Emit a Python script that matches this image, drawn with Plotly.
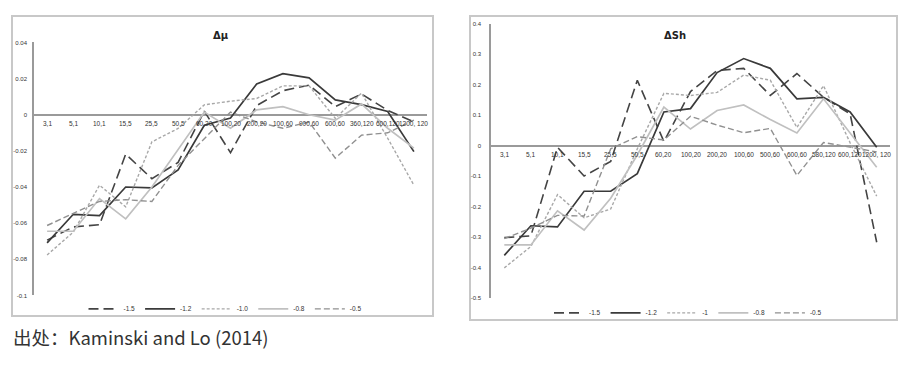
import plotly.graph_objects as go

W, H = 911, 377

cats_mu = ["3,1", "5,1", "10,1", "15,5", "25,5", "50,5", "60,20", "100,20", "200,20",
           "100,60", "900,60", "600,60", "360,120", "600,120", "1200, 120"]
cats_sh = ["3,1", "5,1", "10,1", "15,5", "25,5", "50,5", "60,20", "100,20", "200,20",
           "100,60", "500,60", "600,60", "580,120", "600,120", "1200, 120"]

names_mu = ["-1.5", "-1.2", "-1.0", "-0.8", "-0.5"]
names_sh = ["-1.5", "-1.2", "-1", "-0.8", "-0.5"]

mu_m15 = [-0.0694, -0.0621, -0.0609, -0.0218, -0.0354, -0.0264, 0.0020, -0.0210, 0.0051,
          0.0133, 0.0164, 0.0045, 0.0115, 0.0024, -0.0040]
mu_m12 = [-0.0709, -0.0551, -0.0558, -0.0400, -0.0405, -0.0305, -0.0058, -0.0018, 0.0171,
          0.0227, 0.0204, 0.0082, 0.0056, 0.0018, -0.0204]
mu_m10 = [-0.0776, -0.0650, -0.0390, -0.0510, -0.0150, -0.0076, 0.0055, 0.0075, 0.0090,
          0.0160, 0.0160, -0.0020, 0.0120, -0.0130, -0.0390]
mu_m08 = [-0.0645, -0.0645, -0.0464, -0.0576, -0.0400, -0.0190, 0.0015, -0.0075, 0.0027,
          0.0045, 0.0000, -0.0030, 0.0060, -0.0075, -0.0185]
mu_m05 = [-0.0613, -0.0545, -0.0480, -0.0470, -0.0480, -0.0280, -0.0130, 0.0015, -0.0040,
          -0.0075, -0.0040, -0.0240, -0.0113, -0.0100, -0.0030]

sh_m15 = [-0.301, -0.295, -0.005, -0.099, -0.051, 0.215, 0.014, 0.178, 0.247,
          0.254, 0.165, 0.237, 0.159, 0.105, -0.316]
sh_m12 = [-0.359, -0.262, -0.266, -0.149, -0.149, -0.091, 0.111, 0.122, 0.240,
          0.286, 0.254, 0.154, 0.159, 0.111, -0.005]
sh_m10 = [-0.400, -0.330, -0.160, -0.236, -0.207, -0.010, 0.172, 0.165, 0.175,
          0.232, 0.215, 0.060, 0.197, 0.010, -0.165]
sh_m08 = [-0.325, -0.325, -0.213, -0.276, -0.172, -0.030, 0.127, 0.055, 0.116,
          0.134, 0.086, 0.042, 0.154, 0.040, -0.070]
sh_m05 = [-0.304, -0.270, -0.228, -0.230, -0.010, 0.030, 0.019, 0.097, 0.068,
          0.043, 0.057, -0.097, 0.011, -0.005, -0.020]

yt_mu = [0.04, 0.02, 0, -0.02, -0.04, -0.06, -0.08, -0.1]
yt_mu_text = ["0.04", "0.02", "0", "-0.02", "-0.04", "-0.06", "-0.08", "-0.1"]
yt_sh = [0.4, 0.3, 0.2, 0.1, 0, -0.1, -0.2, -0.3, -0.4, -0.5]
yt_sh_text = ["0.4", "0.3", "0.2", "0.1", "0", "-0.1", "-0.2", "-0.3", "-0.4", "-0.5"]

styles = [
    dict(color="#444444", width=1.6, dash="10px,5px"),
    dict(color="#3a3a3a", width=1.7, dash="solid"),
    dict(color="#a8a8a8", width=1.4, dash="3px,2px"),
    dict(color="#c0c0c0", width=1.7, dash="solid"),
    dict(color="#909090", width=1.4, dash="6px,3px"),
]

fig = go.Figure()

mu_series = [mu_m15, mu_m12, mu_m10, mu_m08, mu_m05]
sh_series = [sh_m15, sh_m12, sh_m10, sh_m08, sh_m05]

for nm, ys, st in zip(names_mu, mu_series, styles):
    fig.add_trace(go.Scatter(x=cats_mu, y=ys, mode="lines", name=nm, line=st,
                             xaxis="x", yaxis="y", legend="legend"))
for nm, ys, st in zip(names_sh, sh_series, styles):
    fig.add_trace(go.Scatter(x=cats_sh, y=ys, mode="lines", name=nm, line=st,
                             xaxis="x2", yaxis="y2", legend="legend2"))

OFF = 8  # page body margin


def px(x):
    return (x - OFF) / W


def py(y):
    return 1 - (y - OFF) / H


tickfont = dict(family="Liberation Sans", size=6.5, color="#333333")
ytickfont = dict(family="Liberation Sans", size=6, color="#333333")
legfont = dict(family="Liberation Sans", size=6.5, color="#333333")

fig.update_layout(
    width=W, height=H,
    margin=dict(l=0, r=0, t=0, b=0),
    paper_bgcolor="white", plot_bgcolor="white",
    xaxis=dict(domain=[px(34), px(427)], type="category", showticklabels=False,
               showgrid=False, zeroline=False, showline=False, ticks="",
               range=[-0.5, 14.5]),
    yaxis=dict(domain=[py(297), py(40)], range=[-0.1, 0.04], tickvals=yt_mu,
               ticktext=yt_mu_text, showgrid=False, zeroline=True, zerolinecolor="#9a9a9a",
               zerolinewidth=1.6, showline=True, linecolor="#9a9a9a", linewidth=1.6,
               ticks="", tickfont=ytickfont, anchor="x", ticklabelstandoff=4),
    xaxis2=dict(domain=[px(491), px(890)], type="category", showticklabels=False,
                showgrid=False, zeroline=False, showline=False, ticks="",
                range=[-0.5, 14.5], anchor="y2"),
    yaxis2=dict(domain=[py(300), py(21)], range=[-0.5, 0.4], tickvals=yt_sh,
                ticktext=yt_sh_text, showgrid=False, zeroline=True, zerolinecolor="#9a9a9a",
                zerolinewidth=1.6, showline=True, linecolor="#9a9a9a", linewidth=1.6,
                ticks="", tickfont=ytickfont, anchor="x2", ticklabelstandoff=7),
    legend=dict(orientation="h", x=px(225), y=py(296), xanchor="center", yanchor="top",
                font=legfont, bgcolor="rgba(0,0,0,0)", itemwidth=30, tracegroupgap=0),
    legend2=dict(orientation="h", x=px(688), y=py(300), xanchor="center", yanchor="top",
                 font=legfont, bgcolor="rgba(0,0,0,0)", itemwidth=30, tracegroupgap=0),
    showlegend=True,
)

shapes = [
    dict(type="rect", xref="paper", yref="paper", x0=px(12), x1=px(433), y0=py(318), y1=py(13),
         line=dict(color="#c8c8c8", width=2), layer="below"),
    dict(type="rect", xref="paper", yref="paper", x0=px(470), x1=px(897), y0=py(322), y1=py(13),
         line=dict(color="#c8c8c8", width=2), layer="below"),
]
fig.update_layout(shapes=shapes)

annotations = []
for c in cats_mu:
    annotations.append(dict(x=c, y=0, xref="x", yref="y", text=c, showarrow=False,
                            yanchor="top", yshift=-3, font=tickfont))
for c in cats_sh:
    annotations.append(dict(x=c, y=0, xref="x2", yref="y2", text=c, showarrow=False,
                            yanchor="top", yshift=-3, font=tickfont))
annotations.append(dict(x=px(211), y=py(25), xref="paper", yref="paper", text="<b>Δμ</b>",
                        showarrow=False, font=dict(family="DejaVu Sans", size=10, color="#222")))
annotations.append(dict(x=px(688), y=py(25), xref="paper", yref="paper", text="<b>ΔSh</b>",
                        showarrow=False, font=dict(family="DejaVu Sans", size=10, color="#222")))
annotations.append(dict(x=px(11), y=py(355), xref="paper", yref="paper", xanchor="left",
                        text="出处：Kaminski and Lo (2014)", showarrow=False,
                        font=dict(family="Noto Sans CJK SC", size=18.5, color="#333")))
fig.update_layout(annotations=annotations)

fig.write_html("out.html")
